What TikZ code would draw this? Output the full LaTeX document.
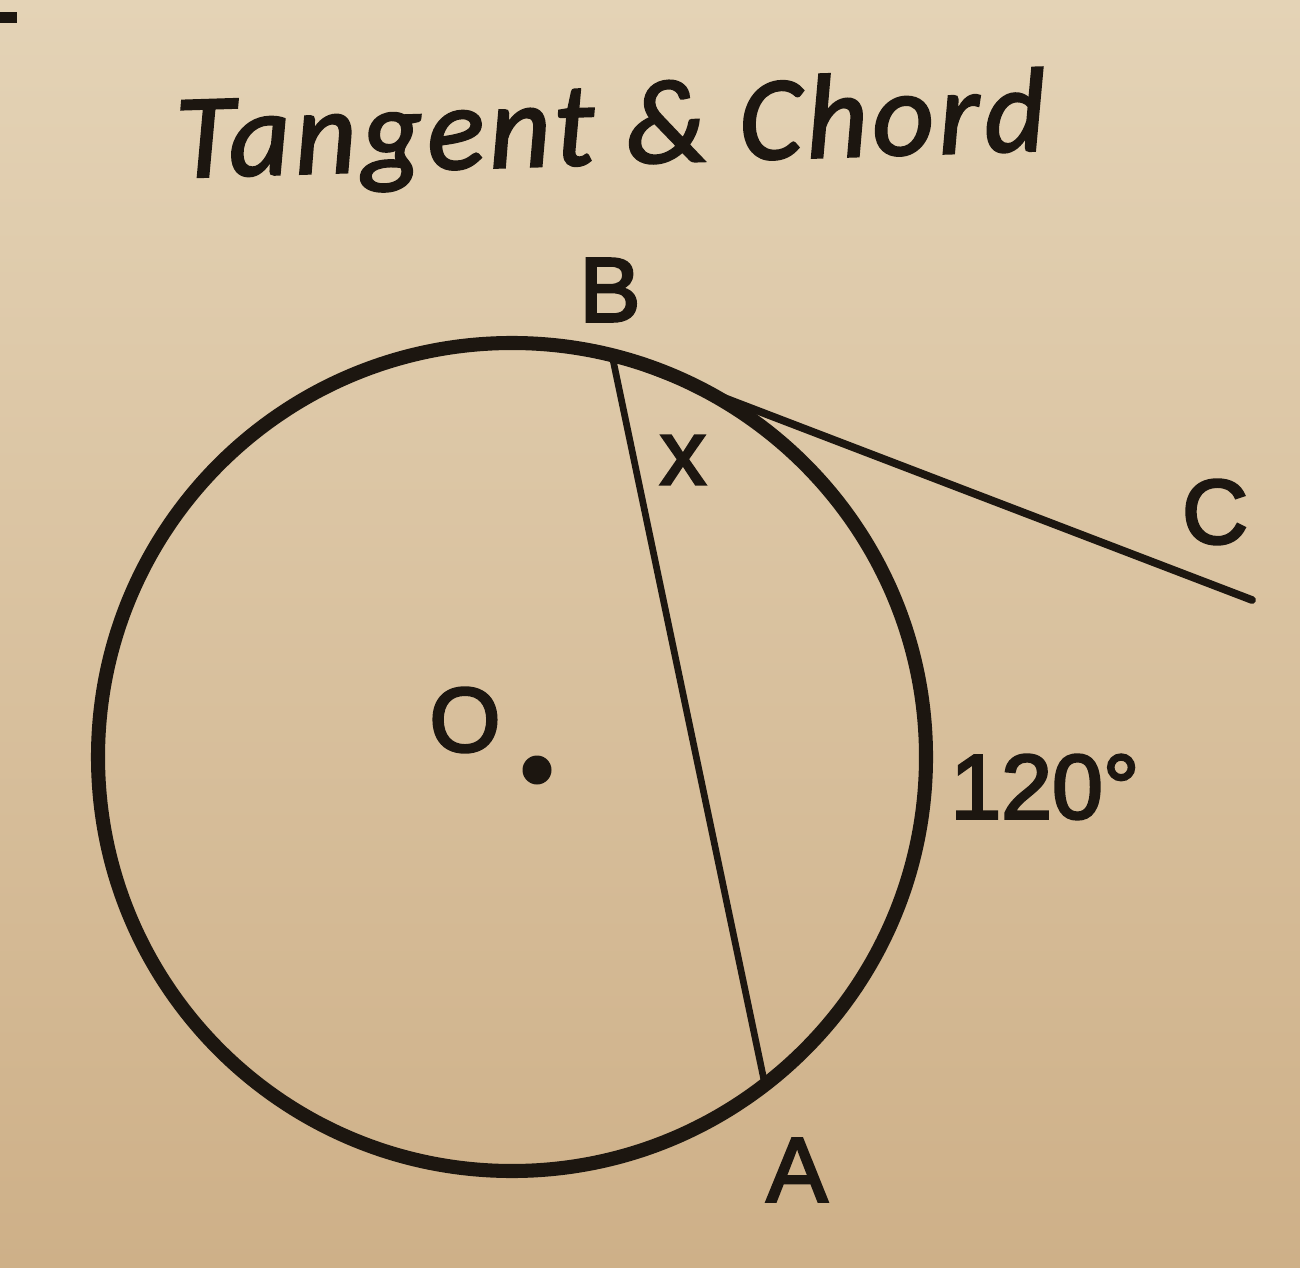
\documentclass[tikz,border=0pt]{standalone}
\usepackage{fontspec}
\setmainfont{Liberation Sans}[FakeBold=3]
\newfontfamily\titlefont{Carlito}[LetterSpace=4,FakeBold=2]
\definecolor{ink}{RGB}{28,22,16}
\definecolor{papertop}{RGB}{228,211,182}
\definecolor{paperbot}{RGB}{206,176,136}

\begin{document}
\begin{tikzpicture}[every node/.style={text=ink,font=\fontsize{26}{30}\selectfont}]
%\draw [help lines] (0,0) grid (13,12.67);
\shade [top color=papertop, bottom color=paperbot] (0,0) rectangle (13,12.67);
\useasboundingbox (0,0) rectangle (13,12.67);
\fill [ink] (0,12.44) rectangle (0.17,12.55);
\node [anchor=base, rotate=1.8] (title) at (6.12,11.03) {\titlefont\itshape\fontsize{34}{40}\selectfont Tangent \& Chord};
% circle, chord and tangent
\coordinate (O) at (5.12,5.10);
\coordinate (B) at (6.12,9.12);
\coordinate (A) at (7.65,1.82);
\coordinate (C) at (12.52,6.67);
\draw [ink, line width=4pt] (O) circle (4.14);
\draw [ink, line width=1.9pt] (B)--(A);
\draw [ink, line width=2.2pt, line cap=round] (B)--(C);
\fill [ink] (5.37,4.97) circle (0.145);
\node (labO) at (4.65,5.47) {O};
\node (labB) at (6.10,9.77) {B};
\node (labC) at (12.15,7.55) {C};
\node (labA) at (7.97,0.97) {A};
\node (labx) at (6.83,8.07) {x};
\node [right] (arc) at (9.38,4.80) {120°};
\end{tikzpicture}
\end{document}
